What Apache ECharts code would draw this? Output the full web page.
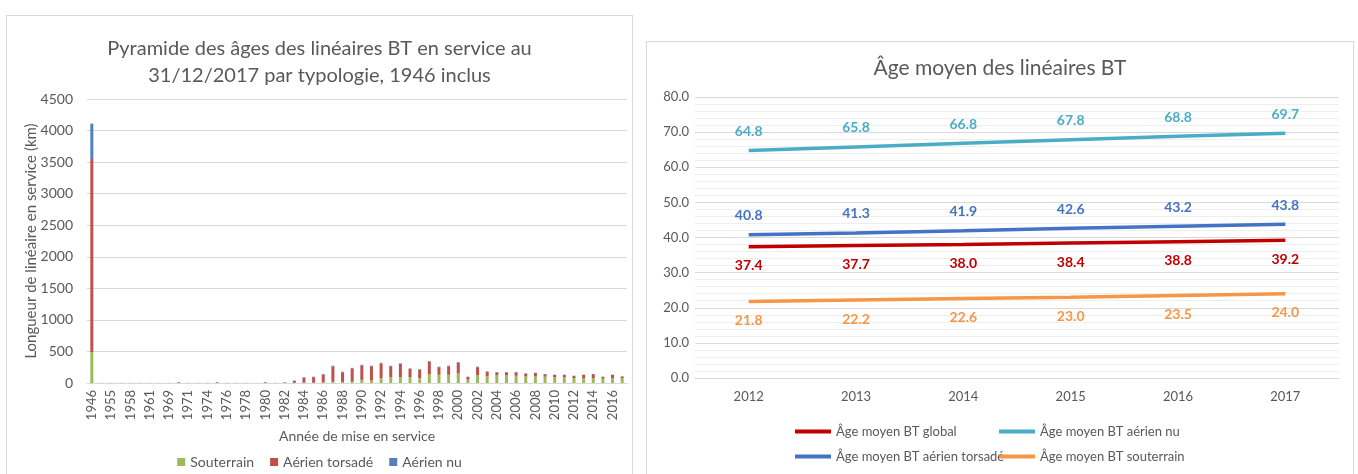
<!DOCTYPE html>
<html>
<head>
<meta charset="utf-8">
<script src="https://cdn.jsdelivr.net/npm/echarts@6/dist/echarts.min.js"></script>
<style>
  html, body { margin: 0; padding: 0; background: #fff; }
  body { width: 1358px; height: 474px; position: relative; overflow: hidden; }
  .panel { position: absolute; border: 1px solid #d9d9d9; background: #fff; }
  #pyramide { left: 6px; top: 15px; width: 625px; height: 470px; }
  #agemoyen { left: 646px; top: 41px; width: 706px; height: 440px; }
</style>
</head>
<body>
<div id="pyramide" class="panel"></div>
<div id="agemoyen" class="panel"></div>
<script>
// années de mise en service (catégories du graphique de gauche)
const annees = ['1946', '1950', '1955', '1956', '1958', '1960', '1961', '1965', '1969', '1970',
  '1971', '1972', '1974', '1975', '1976', '1977', '1978', '1979', '1980', '1981',
  '1982', '1983', '1984', '1985', '1986', '1987', '1988', '1989', '1990', '1991',
  '1992', '1993', '1994', '1995', '1996', '1997', '1998', '1999', '2000', '2001',
  '2002', '2003', '2004', '2005', '2006', '2007', '2008', '2009', '2010', '2011',
  '2012', '2013', '2014', '2015', '2016', '2017'];
// longueurs en km par typologie
const souterrain = [490, 0, 0, 0, 0, 0, 0, 0, 0, 0,
  0, 0, 0, 0, 0, 0, 0, 0, 0, 0,
  0, 2, 5, 5, 8, 20, 18, 22, 50, 40,
  78, 88, 95, 92, 78, 140, 130, 130, 150, 52,
  125, 105, 120, 120, 115, 105, 110, 100, 88, 88,
  78, 78, 78, 68, 74, 74];
const torsade = [3060, 0, 0, 0, 0, 0, 0, 0, 0, 0,
  0, 0, 0, 0, 0, 0, 0, 0, 0, 0,
  0, 32, 78, 88, 125, 245, 152, 210, 230, 226,
  235, 178, 207, 132, 135, 198, 120, 136, 174, 44,
  126, 75, 50, 50, 55, 45, 50, 40, 42, 42,
  36, 52, 62, 30, 56, 30];
const nu = [560, 2, 2, 2, 2, 2, 2, 2, 3, 12,
  3, 2, 3, 12, 3, 2, 2, 2, 12, 3,
  10, 6, 8, 7, 9, 9, 9, 8, 9, 8,
  8, 8, 8, 8, 8, 9, 8, 8, 8, 4,
  7, 4, 4, 4, 4, 3, 3, 2, 2, 2,
  2, 2, 2, 2, 2, 1];

// âge moyen (graphique de droite)
const anneesAge = ['2012', '2013', '2014', '2015', '2016', '2017'];
const ageGlobal = [37.4, 37.7, 38.0, 38.4, 38.8, 39.2];
const ageAerienNu = [64.8, 65.8, 66.8, 67.8, 68.8, 69.7];
const ageTorsade = [40.8, 41.3, 41.9, 42.6, 43.2, 43.8];
const ageSouterrain = [21.8, 22.2, 22.6, 23.0, 23.5, 24.0];

const police = 'Lato, "Open Sans", sans-serif';
const gris = '#595959';

// --- pyramide des âges ---
let chartG = echarts.init(document.getElementById('pyramide'));
const barre = (nom, data, couleur) => ({
  name: nom, type: 'bar', stack: 'total', data: data, barWidth: 3,
  itemStyle: { color: couleur }
});
chartG.setOption({
  textStyle: { fontFamily: police },
  title: {
    text: 'Pyramide des âges des linéaires BT en service au\n31/12/2017 par typologie, 1946 inclus',
    left: 'center', top: 14,
    textStyle: { fontFamily: police, fontSize: 20, fontWeight: 'normal', color: gris, lineHeight: 27 }
  },
  legend: {
    bottom: 12, left: 'center', itemWidth: 8, itemHeight: 8, itemGap: 16, icon: 'rect',
    textStyle: { fontFamily: police, fontSize: 14, color: gris }
  },
  grid: { left: 80, top: 83, width: 540, height: 284 },
  xAxis: {
    type: 'category', data: annees,
    name: 'Année de mise en service', nameLocation: 'middle', nameGap: 46,
    nameTextStyle: { fontFamily: police, fontSize: 14, color: gris },
    axisLine: { lineStyle: { color: '#d9d9d9' } },
    axisTick: { show: false },
    axisLabel: { rotate: 90, interval: 1, fontSize: 13, color: gris, margin: 7 }
  },
  yAxis: {
    type: 'value', min: 0, max: 4500, interval: 500,
    name: 'Longueur de linéaire en service (km)', nameLocation: 'middle', nameGap: 48,
    nameMoveOverlap: false,
    nameTextStyle: { fontFamily: police, fontSize: 15, color: gris },
    axisLabel: { fontSize: 14, color: gris, margin: 14, formatter: v => String(v) },
    splitLine: { lineStyle: { color: '#d9d9d9' } }
  },
  series: [
    barre('Souterrain', souterrain, '#9BBB59'),
    barre('Aérien torsadé', torsade, '#C0504D'),
    barre('Aérien nu', nu, '#4F81BD')
  ]
});

// --- âge moyen ---
let chartD = echarts.init(document.getElementById('agemoyen'));
const ligne = (nom, data, couleur, pos) => ({
  name: nom, type: 'line', data: data, showSymbol: true, symbol: 'circle', symbolSize: 0.1,
  lineStyle: { width: 3.5, color: couleur }, itemStyle: { color: couleur },
  label: {
    show: true, position: pos, distance: 12, fontWeight: 'bold', fontSize: 14,
    fontFamily: police, color: couleur, formatter: p => p.value.toFixed(1)
  }
});
const legende = (gauche, noms) => ({
  data: noms, orient: 'vertical', left: gauche, top: 378, itemGap: 12,
  icon: 'rect', itemWidth: 36, itemHeight: 4,
  textStyle: { fontFamily: police, fontSize: 13, color: gris }
});
chartD.setOption({
  textStyle: { fontFamily: police },
  title: {
    text: 'Âge moyen des linéaires BT', left: 'center', top: 11,
    textStyle: { fontFamily: police, fontSize: 21, fontWeight: 'normal', color: gris }
  },
  legend: [
    legende(143, ['Âge moyen BT global', 'Âge moyen BT aérien torsadé']),
    legende(347, ['Âge moyen BT aérien nu', 'Âge moyen BT souterrain'])
  ],
  grid: { left: 48, top: 55, width: 644, height: 281 },
  xAxis: {
    type: 'category', data: anneesAge, boundaryGap: true,
    axisLine: { lineStyle: { color: '#d9d9d9' } },
    axisTick: { show: false },
    axisLabel: { fontSize: 13, color: gris, margin: 12 }
  },
  yAxis: {
    type: 'value', min: 0, max: 80, interval: 10,
    axisLabel: { fontSize: 13, color: gris, margin: 6, formatter: v => v.toFixed(1) },
    splitLine: { lineStyle: { color: '#d9d9d9' } },
    minorTick: { show: false, splitNumber: 5 },
    minorSplitLine: { show: true, lineStyle: { color: '#eeeeee' } }
  },
  series: [
    ligne('Âge moyen BT global', ageGlobal, '#C00000', 'bottom'),
    ligne('Âge moyen BT aérien nu', ageAerienNu, '#4BACC6', 'top'),
    ligne('Âge moyen BT aérien torsadé', ageTorsade, '#4472C4', 'top'),
    ligne('Âge moyen BT souterrain', ageSouterrain, '#F79646', 'bottom')
  ]
});
</script>
</body>
</html>
